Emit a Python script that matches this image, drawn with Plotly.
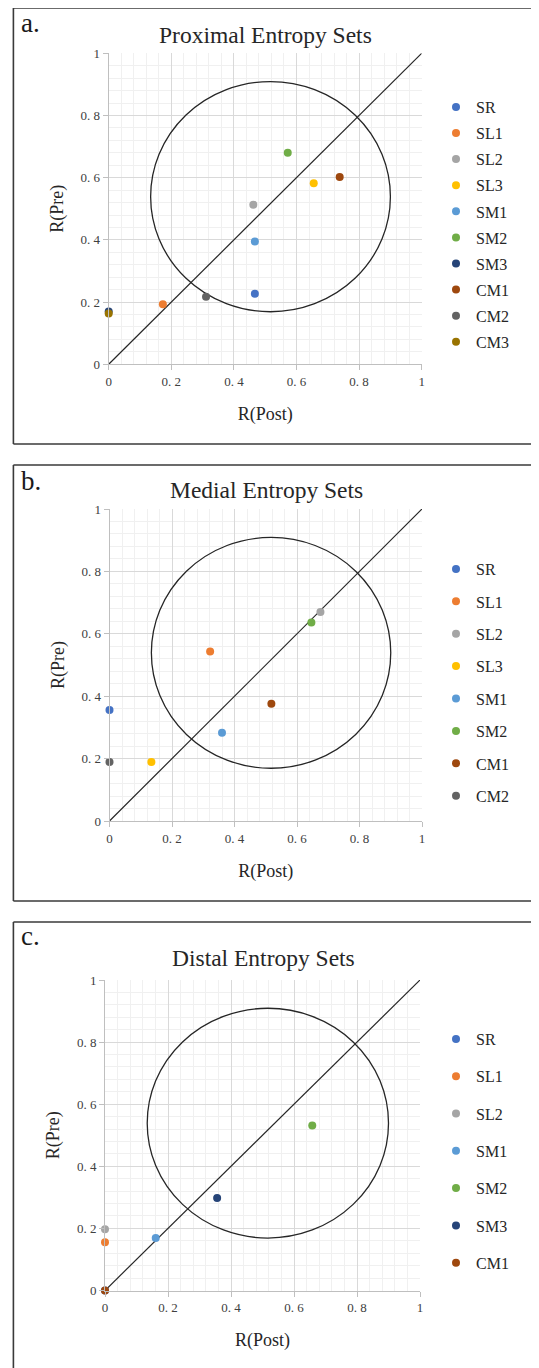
import plotly.graph_objects as go

# ---------------- data ----------------
names_a = ["SR", "SL1", "SL2", "SL3", "SM1", "SM2", "SM3", "CM1", "CM2", "CM3"]
post_a = [0.467, 0.173, 0.462, 0.655, 0.467, 0.572, 0.0, 0.738, 0.311, 0.0]
pre_a = [0.227, 0.193, 0.513, 0.582, 0.395, 0.680, 0.170, 0.602, 0.217, 0.163]

names_b = ["SR", "SL1", "SL2", "SL3", "SM1", "SM2", "CM1", "CM2"]
post_b = [0.0, 0.322, 0.675, 0.134, 0.360, 0.646, 0.518, 0.0]
pre_b = [0.356, 0.543, 0.670, 0.189, 0.283, 0.636, 0.376, 0.189]

names_c = ["SR", "SL1", "SL2", "SM1", "SM2", "SM3", "CM1"]
post_c = [0.0, 0.0, 0.0, 0.161, 0.658, 0.356, 0.0]
pre_c = [0.0, 0.155, 0.197, 0.169, 0.531, 0.298, 0.0]

titles = ["Proximal Entropy Sets", "Medial Entropy Sets", "Distal Entropy Sets"]
letters = ["a.", "b.", "c."]

tick_vals = [0, 0.2, 0.4, 0.6, 0.8, 1]
tick_text = ["0", "0. 2", "0. 4", "0. 6", "0. 8", "1"]

diag_x = [0, 1]
diag_y = [0, 1]
circle_cx, circle_cy = 0.517, 0.539
circle_rx, circle_ry = 0.383, 0.370

colors = {
    "SR": "#4472C4", "SL1": "#ED7D31", "SL2": "#A5A5A5", "SL3": "#FFC000",
    "SM1": "#5B9BD5", "SM2": "#70AD47", "SM3": "#264478", "CM1": "#9E480E",
    "CM2": "#636363", "CM3": "#997300",
}

# ---------------- layout helpers ----------------
W, H = 539, 1368
OFF = 8  # page body margin offset
def px(x):
    return (x - OFF) / W
def py(y):
    return 1 - (y - OFF) / H

FONT = "Liberation Serif, Times New Roman, serif"

panels = [
    dict(names=names_a, post=post_a, pre=pre_a, xd=(108.7, 421.7), yd=(53.3, 364.3),
         frame=(13.4, 8, 444), title_y=35, title_x=265, letter_y=23,
         leg_y=90, gap=2.3),
    dict(names=names_b, post=post_b, pre=pre_b, xd=(109.5, 422.0), yd=(509.0, 821.0),
         frame=(13.4, 465, 901), title_y=490, title_x=266, letter_y=481,
         leg_y=552, gap=8.6),
    dict(names=names_c, post=post_c, pre=pre_c, xd=(105.0, 420.0), yd=(980.0, 1290.5),
         frame=(13.4, 922, 1390), title_y=958, title_x=263, letter_y=936,
         leg_y=1022, gap=13.5),
]

fig = go.Figure()
shapes = []
annotations = []
frame_line = dict(color="#3A3A3A", width=1.6)

for i, p in enumerate(panels):
    k = "" if i == 0 else str(i + 1)
    xa, ya = "x" + k, "y" + k
    leg = "legend" + k
    for n, xv, yv in zip(p["names"], p["post"], p["pre"]):
        fig.add_trace(go.Scatter(
            x=[xv], y=[yv], mode="markers", name=n,
            marker=dict(size=8, color=colors[n]),
            xaxis=xa, yaxis=ya, legend=leg, legendgroup=f"{i}{n}",
            cliponaxis=False,
        ))
    axis_common = dict(
        range=[0, 1], tickvals=tick_vals, ticktext=tick_text,
        showgrid=True, gridcolor="#D9D9D9", gridwidth=1,
        minor=dict(dtick=0.04, showgrid=True, gridcolor="#F0F0F0", gridwidth=1),
        zeroline=False, showline=True, linecolor="#BFBFBF", linewidth=1,
        ticks="outside", ticklen=5, tickcolor="#BFBFBF",
        tickfont=dict(family=FONT, size=13, color="#404040"),
        fixedrange=True, automargin=False,
        title_font=dict(family=FONT, size=18, color="#262626"),
    )
    fig.update_layout({
        "xaxis" + k: dict(axis_common, domain=[px(p["xd"][0]), px(p["xd"][1])],
                           anchor=ya, title=dict(text="R(Post)", standoff=19)),
        "yaxis" + k: dict(axis_common, domain=[py(p["yd"][1]), py(p["yd"][0])],
                           anchor=xa, title=dict(text="R(Pre)", standoff=12)),
        leg: dict(x=px(436), y=py(p["leg_y"]), xanchor="left", yanchor="top",
                  font=dict(family=FONT, size=16, color="#262626"),
                  tracegroupgap=p["gap"], bgcolor="rgba(0,0,0,0)",
                  itemclick=False, itemdoubleclick=False),
    })
    # diagonal line and reference circle
    shapes.append(dict(type="line", xref=xa, yref=ya, x0=diag_x[0], y0=diag_y[0],
                       x1=diag_x[1], y1=diag_y[1], line=dict(color="#262626", width=1.2),
                       layer="between"))
    shapes.append(dict(type="circle", xref=xa, yref=ya,
                       x0=circle_cx - circle_rx, x1=circle_cx + circle_rx,
                       y0=circle_cy - circle_ry, y1=circle_cy + circle_ry,
                       line=dict(color="#262626", width=1.3), layer="between"))
    # panel frame (top, left, bottom edges; right edge runs off the page)
    fx, fy0, fy1 = p["frame"]
    for (x0, y0, x1, y1) in [(fx, fy0, W + 30, fy0), (fx, fy0, fx, fy1), (fx, fy1, W + 30, fy1)]:
        shapes.append(dict(type="line", xref="paper", yref="paper",
                           x0=px(x0), y0=py(y0), x1=px(x1), y1=py(y1),
                           line=frame_line, layer="above"))
    annotations.append(dict(text=titles[i], x=px(p["title_x"]), y=py(p["title_y"]),
                            xref="paper", yref="paper", showarrow=False,
                            xanchor="center", yanchor="middle",
                            font=dict(family=FONT, size=23.5, color="#262626")))
    annotations.append(dict(text=letters[i], x=px(19), y=py(p["letter_y"]),
                            xref="paper", yref="paper", showarrow=False,
                            xanchor="left", yanchor="middle",
                            font=dict(family=FONT, size=27, color="#1A1A1A")))

fig.update_layout(
    width=W, height=H,
    margin=dict(l=0, r=0, t=0, b=0),
    paper_bgcolor="white", plot_bgcolor="white",
    shapes=shapes, annotations=annotations,
    showlegend=True,
)

fig.write_html("out.html")
